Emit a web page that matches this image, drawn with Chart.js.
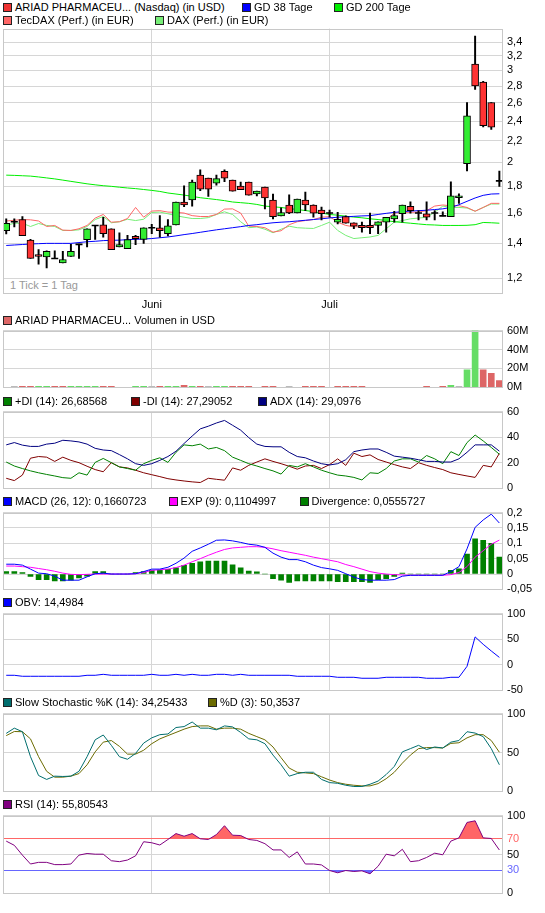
<!DOCTYPE html>
<html><head><meta charset="utf-8">
<script src="https://cdn.jsdelivr.net/npm/chart.js@4.4.1/dist/chart.umd.min.js"></script>
<style>
body{margin:0;background:#fff;width:545px;height:913px;position:relative;overflow:hidden;font-family:"Liberation Sans",Arial,sans-serif;font-size:11px;}
canvas{position:absolute;left:0;}
.lg{position:absolute;white-space:nowrap;line-height:13px;height:13px;color:#000;}
.lg i{display:inline-block;width:7px;height:7px;border:1px solid #222;margin-right:3px;position:relative;top:1px;}
.note{position:absolute;left:10px;top:279px;color:#999;white-space:nowrap;line-height:13px;}
</style></head><body>
<div class="note">1 Tick = 1 Tag</div>
<script>
// ---------- DATA ----------
const monthTickIdx = [18, 40];
const monthLabels = ['Juni', 'Juli'];

const open  = [1.48,1.54,1.555,1.42,1.333,1.319,1.31,1.285,1.321,1.394,1.423,1.515,1.519,1.493,1.378,1.368,1.444,1.425,1.50,1.50,1.461,1.519,1.68,1.695,1.891,1.866,1.826,1.924,1.85,1.803,1.834,1.74,1.794,1.695,1.58,1.658,1.601,1.695,1.658,1.622,1.60,1.537,1.576,1.533,1.515,1.515,1.515,1.537,1.56,1.595,1.648,1.60,1.595,1.60,1.58,1.574,1.712,1.989,3.084,2.851,2.604,1.844];
const high  = [1.56,1.56,1.575,1.425,1.362,1.354,1.354,1.352,1.394,1.396,1.493,1.515,1.571,1.493,1.467,1.45,1.45,1.50,1.522,1.582,1.555,1.68,1.804,1.85,1.935,1.866,1.891,1.935,1.85,1.834,1.834,1.763,1.794,1.74,1.637,1.733,1.702,1.755,1.66,1.642,1.622,1.605,1.58,1.533,1.537,1.60,1.54,1.571,1.613,1.658,1.682,1.617,1.682,1.617,1.608,1.836,1.742,2.604,3.49,2.86,2.604,1.926];
const low   = [1.46,1.505,1.448,1.31,1.277,1.257,1.31,1.285,1.321,1.31,1.378,1.425,1.439,1.362,1.378,1.368,1.392,1.40,1.461,1.438,1.447,1.519,1.645,1.65,1.765,1.722,1.81,1.838,1.763,1.774,1.732,1.726,1.63,1.56,1.58,1.595,1.601,1.617,1.571,1.553,1.571,1.526,1.53,1.493,1.471,1.461,1.461,1.471,1.537,1.537,1.60,1.553,1.553,1.553,1.58,1.574,1.67,1.926,2.76,2.34,2.312,1.80];
const close = [1.53,1.54,1.448,1.31,1.321,1.352,1.31,1.304,1.352,1.394,1.493,1.515,1.461,1.362,1.392,1.423,1.43,1.50,1.50,1.48,1.513,1.68,1.658,1.834,1.778,1.778,1.862,1.866,1.763,1.774,1.732,1.763,1.71,1.574,1.604,1.601,1.702,1.658,1.60,1.595,1.60,1.557,1.53,1.51,1.50,1.50,1.54,1.571,1.582,1.658,1.617,1.60,1.571,1.60,1.58,1.726,1.727,2.457,2.802,2.352,2.335,1.844];

const gd38  = [1.387,1.39,1.393,1.396,1.398,1.40,1.40,1.40,1.40,1.405,1.41,1.413,1.417,1.419,1.42,1.423,1.425,1.427,1.43,1.435,1.44,1.447,1.455,1.462,1.47,1.478,1.486,1.493,1.50,1.507,1.515,1.52,1.527,1.533,1.537,1.54,1.545,1.55,1.555,1.56,1.566,1.571,1.574,1.577,1.58,1.582,1.59,1.598,1.605,1.61,1.614,1.617,1.62,1.625,1.63,1.64,1.66,1.685,1.71,1.73,1.74,1.742];
const gd200 = [1.891,1.889,1.886,1.883,1.876,1.868,1.86,1.85,1.84,1.83,1.82,1.812,1.805,1.80,1.793,1.787,1.782,1.775,1.768,1.76,1.748,1.74,1.732,1.722,1.712,1.705,1.698,1.69,1.68,1.675,1.67,1.662,1.65,1.645,1.64,1.632,1.625,1.618,1.61,1.60,1.59,1.585,1.578,1.572,1.567,1.56,1.555,1.548,1.54,1.535,1.53,1.525,1.52,1.518,1.515,1.515,1.515,1.516,1.52,1.535,1.533,1.53];
const tecdax = [1.545,1.55,1.555,1.553,1.545,1.508,1.515,1.484,1.482,1.493,1.515,1.565,1.59,1.537,1.54,1.562,1.64,1.571,1.614,1.617,1.607,1.605,1.60,1.582,1.576,1.576,1.59,1.628,1.63,1.60,1.51,1.508,1.50,1.471,1.48,1.52,1.54,1.548,1.555,1.571,1.575,1.537,1.515,1.506,1.506,1.508,1.533,1.55,1.60,1.605,1.605,1.607,1.617,1.65,1.658,1.652,1.653,1.64,1.613,1.64,1.67,1.67];
const dax   = [1.515,1.53,1.53,1.508,1.528,1.515,1.508,1.482,1.482,1.486,1.508,1.555,1.576,1.533,1.54,1.557,1.548,1.557,1.604,1.607,1.595,1.582,1.571,1.562,1.562,1.568,1.59,1.609,1.59,1.54,1.50,1.505,1.49,1.467,1.49,1.51,1.50,1.497,1.495,1.515,1.537,1.482,1.45,1.43,1.435,1.44,1.45,1.493,1.537,1.548,1.56,1.565,1.571,1.605,1.65,1.64,1.64,1.636,1.613,1.64,1.665,1.665];

const volume = [0,1,1,1,1,1,1,1,1,1,1,1,1,1,0,0,1,1,1,1,1,1,2.3,1,1,1,1,1,1,1,1,0,1,1,0,1,0,1,1,1,0,1,1,1,1,0,0,0,0,0,0,0,1,0,1,2.2,1,18.5,60,18.5,14.8,7.2];
const volDir = [0,0,-1,-1,1,1,-1,-1,1,1,1,1,-1,-1,0,0,1,1,0,-1,1,1,-1,1,-1,0,1,1,-1,-1,-1,0,-1,-1,0,0,0,-1,-1,-1,0,-1,-1,-1,-1,0,0,0,0,0,0,0,-1,0,-1,1,0,1,1,-1,-1,-1];

const pdi = [20.6,17.5,15.5,13.7,12.2,10.9,9.7,8.4,7.9,12.2,10.4,20.3,23.4,20.1,16.8,15.5,14.2,19.3,21.9,23.9,20.3,28.2,34,33.3,34.6,30.8,32,29.5,24.4,21.9,19.3,17.5,15.5,13.7,11.2,18,16.8,19.3,16.8,14.2,12.2,10.4,9.7,8.6,6.6,12.2,11.7,15.5,21.4,23.1,23.1,20.6,25.7,23.1,19.3,28.7,25.7,35.8,41.7,37.1,32,26.7];
const mdi = [7.9,6.1,10.4,23.6,24.9,24.4,21.1,24.4,21.9,20.1,17.3,14.7,13,20.1,16.8,16,14.2,12.2,10.7,9.2,7.6,6.6,5.8,5.1,4.6,7.9,7.1,6.4,16,14.2,18,20.6,23.1,21.1,19.3,17.3,15,17.5,18,15.5,18.6,23.1,18,27.5,24.9,26.2,22.6,20.6,18.6,16.8,15.5,20.1,18,16.3,14.7,12.2,10.9,9.7,8.6,18,16.8,27.3];
const adx = [34,35.8,33.8,32.8,32.8,34.6,35.3,37.6,37.1,36.3,34.6,31.3,30,29.5,26.4,23.1,19.3,18,19.3,21.9,24.9,29,35.1,40.9,46.5,48.6,51.1,53.1,49.3,45.5,39.7,34.6,32.8,32.5,32.5,28.2,24.9,23.9,21.4,19.3,18.3,19.3,22.4,28.7,30,30.8,30.8,28.2,25.2,24.4,23.6,22.4,21.1,21.1,20.6,20.6,23.1,28.2,34,34,34,29.1];

const macd = [0.032,0.032,0.029,0.016,0.003,0.001,-0.007,-0.02,-0.02,-0.02,-0.009,0.001,0.003,0,0,0,0.001,0.008,0.016,0.016,0.022,0.035,0.052,0.074,0.085,0.097,0.11,0.111,0.108,0.103,0.097,0.094,0.087,0.068,0.055,0.047,0.047,0.04,0.029,0.021,0.017,0.012,0.001,-0.01,-0.018,-0.02,-0.02,-0.02,-0.018,-0.007,-0.004,-0.004,-0.004,-0.004,-0.004,0.008,0.024,0.082,0.152,0.176,0.195,0.166];
const macdExp = [0.026,0.026,0.024,0.022,0.018,0.014,0.009,0.003,-0.001,-0.002,-0.001,0,0,0,0,0,0.001,0.005,0.012,0.014,0.016,0.021,0.029,0.04,0.05,0.061,0.071,0.08,0.085,0.087,0.089,0.089,0.087,0.082,0.076,0.071,0.066,0.061,0.055,0.05,0.045,0.04,0.031,0.024,0.016,0.008,0.003,0,-0.002,-0.003,-0.004,-0.004,-0.004,-0.004,-0.004,-0.002,0.005,0.024,0.055,0.076,0.097,0.1105];
const macdDiv = [0.008,0.008,0.005,-0.008,-0.018,-0.018,-0.022,-0.022,-0.02,-0.013,-0.007,0.008,0.008,0,0,0,0.005,0.008,0.012,0.012,0.015,0.02,0.028,0.035,0.04,0.042,0.042,0.042,0.03,0.02,0.01,0.007,0,-0.015,-0.02,-0.027,-0.022,-0.022,-0.022,-0.022,-0.022,-0.025,-0.025,-0.025,-0.025,-0.027,-0.018,-0.015,-0.008,0.003,0,0,0,0,0,0.012,0.017,0.065,0.115,0.11,0.1,0.0556];

const obv = [-20.5,-20.5,-22.4,-22.4,-22.4,-22.4,-22.4,-22.4,-22.4,-22.4,-20.5,-20.5,-18.6,-20.5,-20.5,-20.5,-20.5,-20.5,-18.6,-20.5,-20.5,-18.6,-20.5,-18.6,-20.5,-20.5,-18.6,-18.6,-20.5,-18.6,-20.5,-20.5,-20.5,-20.5,-20.5,-20.5,-22.4,-22.4,-22.4,-22.4,-22.4,-24.4,-24.4,-24.4,-26.3,-26.3,-26.3,-24.4,-24.4,-24.4,-24.4,-24.4,-26.3,-26.3,-26.3,-24.4,-24.4,-3,54.5,40,27,14.5];

const stochK = [74.6,81.3,76.7,44.6,20.4,15.4,19.6,19.2,19.6,25.8,44.6,66.3,72.5,59.2,44.6,41.3,48.8,62.1,68.8,72.9,73.8,82.1,83.3,89.2,81.3,81.3,79.2,84.2,82.9,75.8,67.5,66.3,61.3,46.7,34.2,19.6,22.9,24.6,24.6,15.4,11.3,10.4,7.9,6.3,6.3,9.2,13.3,21.7,32.1,50.8,55,59.2,53.8,57.1,55.8,63.3,65.4,76.7,75,70.4,55,34.25];
const stochD = [71.7,77,76.7,67.5,44.6,25.8,18.3,18.3,19.6,22.9,34.2,50.8,63.3,65.4,57.9,47.9,47.9,52.9,61.3,67.5,71.7,75.8,80,83.3,84.2,84.2,80,81.3,81.3,80,74.6,70.4,66.3,57.1,43.3,30,24.6,23.8,22.9,18.8,14.6,11.3,9.2,7.9,7.1,7.1,10,16.3,24.6,36.3,46.7,55,56.3,56.3,55.8,61.7,62.5,68.8,72.9,72.9,65.4,50.35];

const rsi = [67.2,61.8,49.2,37.8,39.9,39.9,37,37,37.8,49.2,51.3,50.4,50.4,42,40.8,42.9,48.3,66.4,65.1,62.2,69.3,76.9,73.5,76.9,70.2,69.3,75.6,87,74.8,74.4,69.3,68.1,63.9,55.9,55.9,46.2,53.4,37.8,37.8,36.6,29.4,26.5,29.4,28.2,29,25.2,34.9,50.4,48.3,56.7,40.8,42,46.2,51.7,49.6,67.2,71.4,91.2,93.3,71.4,70.6,55.8];

const priceTicks = [1.2,1.4,1.6,1.8,2,2.2,2.4,2.6,2.8,3,3.2,3.4];
const volTicks = [0,20,40,60];
const dmiTicks = [0,20,40,60];
const macdTicks = [-0.05,0,0.05,0.1,0.15,0.2];
const obvTicks = [-50,0,50,100];
const stochTicks = [0,50,100];
const rsiTicks = [0,30,50,70,100];

// ---------- STYLE ----------
Chart.defaults.font.family = '"Liberation Sans", Arial, sans-serif';
Chart.defaults.font.size = 11;
Chart.defaults.color = '#000';
const GRID = '#d6d6d6', FRAME = '#c8c8c8';
const UP = '#33ee33', DN = '#ff3333';
const X_MIN = -0.4, X_MAX = 61.45, AXIS_W = 42, PAD = 8;

const fmt = v => String(+(+v).toFixed(3)).replace('.', ',');
const pts = arr => arr.map((v, i) => ({x: i, y: v}));

const frame = {id: 'frame', afterDraw(c) {
  const a = c.chartArea, g = c.ctx;
  g.save(); g.strokeStyle = FRAME; g.lineWidth = 1;
  g.strokeRect(Math.round(a.left) + 0.5, Math.round(a.top) + 0.5, Math.round(a.right - a.left) - 1, Math.round(a.bottom - a.top) - 1);
  g.restore();
}};

function xScale(showLabels) {
  return {type: 'linear', min: X_MIN, max: X_MAX, offset: false,
    afterBuildTicks: s => { s.ticks = monthTickIdx.map(v => ({value: v})); },
    afterFit: s => { s.height = showLabels ? 18 : 0; },
    grid: {color: GRID, drawTicks: false, offset: false},
    border: {display: false},
    ticks: {display: showLabels, padding: 4, maxRotation: 0, autoSkip: false, callback: (v, i) => monthLabels[i]}};
}
function yScale(ticks, min, max, cb, extra) {
  return Object.assign({type: 'linear', position: 'right', min, max,
    afterBuildTicks: s => { s.ticks = ticks.map(v => ({value: v})); },
    afterFit: s => { s.width = AXIS_W; },
    grid: {color: GRID, drawTicks: false},
    border: {display: false},
    ticks: {padding: 4, autoSkip: false, callback: cb}}, extra || {});
}
function makeChart(plotTop, plotH, showX, datasets, yOpts) {
  const cv = document.createElement('canvas');
  const padB = showX ? 0 : PAD, xH = showX ? 18 : 0;
  cv.width = 545; cv.height = PAD + plotH + padB + xH;
  cv.style.top = (plotTop - PAD) + 'px';
  document.body.appendChild(cv);
  return new Chart(cv, {
    type: 'bar', data: {datasets},
    options: {responsive: false, animation: false, events: [],
      layout: {padding: {top: PAD, bottom: padB, left: 3, right: 0}, autoPadding: false},
      plugins: {legend: {display: false}, tooltip: {enabled: false}},
      scales: {x: xScale(showX), y: yOpts}},
    plugins: [frame]});
}
const line = (data, color, order, extra) => Object.assign({type: 'line', data: pts(data), borderColor: color, borderWidth: 1, pointRadius: 0, tension: 0, fill: false, order}, extra || {});

// ---------- PRICE ----------
const bodyIdx = open.map((o, i) => i).filter(i => open[i] !== close[i]);
const dojiIdx = open.map((o, i) => i).filter(i => open[i] === close[i]);
makeChart(26, 268, true, [
  {type: 'bar', data: bodyIdx.map(i => ({x: i, y: [open[i], close[i]]})), backgroundColor: bodyIdx.map(i => close[i] > open[i] ? UP : DN),
   borderColor: '#000', borderWidth: 1, borderSkipped: false, barThickness: 7, grouped: false, order: 0},
  {type: 'line', data: dojiIdx.map(i => ({x: i, y: open[i]})), showLine: false, pointStyle: 'line', pointRadius: 3.5, pointBorderWidth: 1.6, pointBorderColor: '#000', borderColor: '#000', order: 0},
  {type: 'bar', data: open.map((o, i) => ({x: i, y: [low[i], high[i]]})), backgroundColor: '#000', barThickness: 1.3, grouped: false, order: 1},
  line(gd38, '#0000ff', 2), line(gd200, '#00ee00', 3), line(tecdax, '#ff6666', 4), line(dax, '#77ee77', 5)
], {type: 'logarithmic', position: 'right', min: 1.12, max: 3.607,
    afterBuildTicks: s => { s.ticks = priceTicks.map(v => ({value: v})); },
    afterFit: s => { s.width = AXIS_W; },
    grid: {color: GRID, drawTicks: false}, border: {display: false},
    ticks: {padding: 4, autoSkip: false, callback: v => fmt(v)}});

// ---------- VOLUME ----------
makeChart(328, 62, false, [
  {type: 'bar', data: pts(volume), backgroundColor: volDir.map(d => d > 0 ? '#66dd66' : d < 0 ? '#dd6666' : '#bbbbbb'), barThickness: 6, grouped: false}
], yScale(volTicks, 0, 60, v => v + 'M'));

// ---------- DMI ----------
makeChart(409, 82, false, [
  line(pdi, '#008000', 1), line(mdi, '#800000', 2), line(adx, '#000080', 0)
], yScale(dmiTicks, 0, 60, v => fmt(v)));

// ---------- MACD ----------
makeChart(510, 82, false, [
  line(macd, '#0000ff', 0), line(macdExp, '#ff00ff', 1),
  {type: 'bar', data: pts(macdDiv), backgroundColor: '#008000', barThickness: 5, grouped: false, order: 2}
], yScale(macdTicks, -0.05, 0.2, v => fmt(v)));

// ---------- OBV ----------
makeChart(611, 82, false, [line(obv, '#0000ff', 0)], yScale(obvTicks, -50, 100, v => fmt(v)));

// ---------- STOCHASTIC ----------
makeChart(711, 83, false, [line(stochK, '#006e6e', 0), line(stochD, '#6b6b00', 1)], yScale(stochTicks, 0, 100, v => fmt(v)));

// ---------- RSI ----------
makeChart(813, 83, false, [
  line(rsi, '#800080', 0),
  line(rsi, 'rgba(0,0,0,0)', 1, {borderWidth: 0, fill: {target: {value: 70}, above: '#ff6666', below: 'rgba(0,0,0,0)'}}),
  line(rsi, 'rgba(0,0,0,0)', 2, {borderWidth: 0, fill: {target: {value: 30}, above: 'rgba(0,0,0,0)', below: '#6666ff'}})
], yScale(rsiTicks, 0, 100, v => fmt(v), {}));
// colour the 70 / 30 reference lines and labels
(function(){
  const c = Chart.instances[Object.keys(Chart.instances).pop()];
  const ref = v => v === 70 ? '#ff6666' : v === 30 ? '#6666ff' : null;
  c.options.scales.y.grid.color = ctx => (ctx.tick && ref(ctx.tick.value)) || GRID;
  c.options.scales.y.ticks.color = ctx => (ctx.tick && ref(ctx.tick.value)) || '#000';
  c.update();
})();

// ---------- LEGENDS ----------
const legendItems = [
  [3, 7, '#ee3333', 'ARIAD PHARMACEU... (Nasdaq) (in USD)'], [242, 7, '#0000ff', 'GD 38 Tage'], [334, 7, '#00ee00', 'GD 200 Tage'],
  [3, 20, '#ff6666', 'TecDAX (Perf.) (in EUR)'], [155, 20, '#77ee77', 'DAX (Perf.) (in EUR)'],
  [3, 320.5, '#dd6666', 'ARIAD PHARMACEU... Volumen in USD'],
  [3, 401, '#008000', '+DI (14): 26,68568'], [131, 401, '#800000', '-DI (14): 27,29052'], [258, 401, '#000080', 'ADX (14): 29,0976'],
  [3, 501, '#0000ff', 'MACD (26, 12): 0,1660723'], [168.5, 501, '#ff00ff', 'EXP (9): 0,1104997'], [299.5, 501, '#008000', 'Divergence: 0,0555727'],
  [3, 602, '#0000ff', 'OBV: 14,4984'],
  [3, 702.5, '#006e6e', 'Slow Stochastic %K (14): 34,25433'], [208, 702.5, '#6b6b00', '%D (3): 50,3537'],
  [3, 804.5, '#800080', 'RSI (14): 55,80543']
];
legendItems.forEach(([x, y, c, t]) => {
  const d = document.createElement('div');
  d.className = 'lg'; d.style.left = x + 'px'; d.style.top = (y - 6.5) + 'px';
  const b = document.createElement('i'); b.style.background = c; d.appendChild(b);
  d.appendChild(document.createTextNode(t));
  document.body.appendChild(d);
});
</script></body></html>
